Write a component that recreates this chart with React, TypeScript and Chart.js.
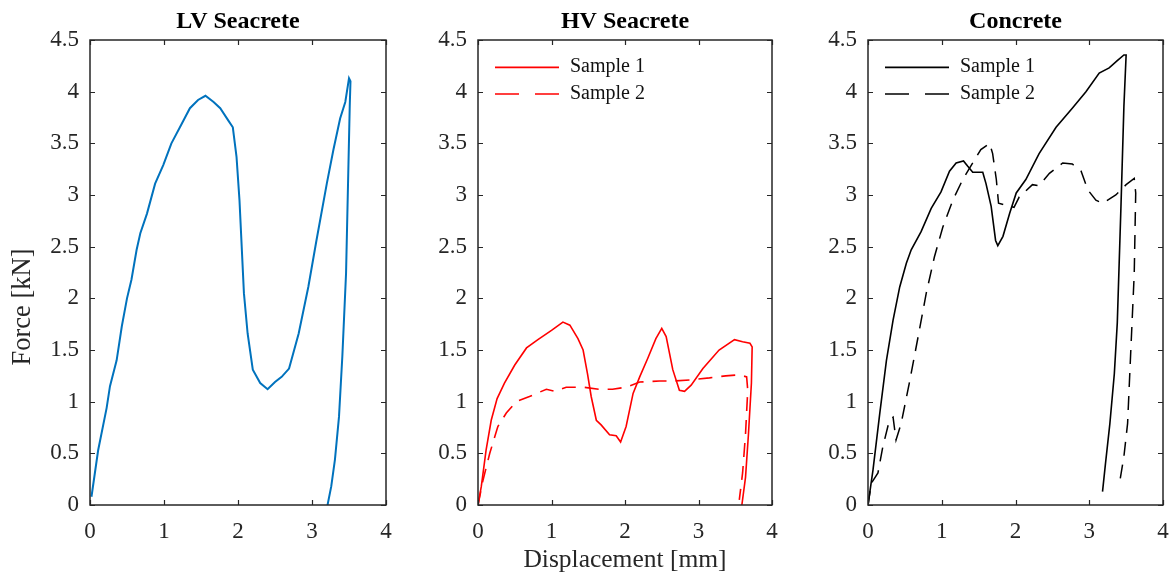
import React, { useEffect, useRef } from 'react';
import { Chart, registerables } from 'chart.js';

Chart.register(...registerables);

// ---------- data ----------
const xTickValues = [0, 1, 2, 3, 4];
const xTickLabels = ['0', '1', '2', '3', '4'];
const yTickValues = [0, 0.5, 1, 1.5, 2, 2.5, 3, 3.5, 4, 4.5];
const yTickLabels = ['0', '0.5', '1', '1.5', '2', '2.5', '3', '3.5', '4', '4.5'];

const panelTitles = ['LV Seacrete', 'HV Seacrete', 'Concrete'];
const seriesLabels = ['Sample 1', 'Sample 2'];
const xAxisTitle = 'Displacement [mm]';
const yAxisTitle = 'Force [kN]';

// LV Seacrete
const lvDisp = [0.02, 0.11, 0.225, 0.27, 0.36, 0.43, 0.5, 0.56, 0.63, 0.68, 0.77, 0.88, 0.99, 1.1, 1.24, 1.35, 1.46, 1.56, 1.67, 1.76, 1.87, 1.93, 1.98, 2.02, 2.05, 2.08, 2.13, 2.2, 2.3, 2.4, 2.5, 2.59, 2.69, 2.82, 2.95, 3.06, 3.2, 3.29, 3.38, 3.45, 3.5, 3.52, 3.51, 3.49, 3.46, 3.41, 3.365, 3.31, 3.26, 3.21];
const lvForce = [0.08, 0.53, 0.94, 1.15, 1.4, 1.73, 2.0, 2.18, 2.47, 2.63, 2.82, 3.11, 3.29, 3.5, 3.69, 3.84, 3.92, 3.96, 3.9, 3.84, 3.72, 3.655, 3.37, 2.95, 2.5, 2.05, 1.66, 1.31, 1.18, 1.12, 1.19, 1.24, 1.32, 1.66, 2.11, 2.56, 3.11, 3.44, 3.74, 3.9, 4.13, 4.1, 3.86, 3.21, 2.24, 1.44, 0.855, 0.44, 0.18, 0];

// HV Seacrete
const hv1Disp = [0, 0.045, 0.11, 0.18, 0.26, 0.36, 0.5, 0.66, 0.815, 1.0, 1.155, 1.25, 1.36, 1.43, 1.49, 1.54, 1.61, 1.675, 1.79, 1.88, 1.94, 2.015, 2.11, 2.2, 2.31, 2.42, 2.5, 2.56, 2.65, 2.74, 2.81, 2.9, 3.06, 3.28, 3.49, 3.6, 3.7, 3.73, 3.72, 3.68, 3.64, 3.59];
const hv1Force = [0, 0.18, 0.53, 0.82, 1.03, 1.18, 1.355, 1.52, 1.6, 1.69, 1.77, 1.74, 1.61, 1.5, 1.27, 1.05, 0.82, 0.775, 0.68, 0.67, 0.61, 0.76, 1.08, 1.24, 1.42, 1.61, 1.71, 1.63, 1.31, 1.11, 1.1, 1.16, 1.32, 1.5, 1.6, 1.58, 1.565, 1.53, 1.18, 0.69, 0.27, 0];
const hv2Disp = [0, 0.068, 0.16, 0.27, 0.385, 0.52, 0.7, 0.93, 1.04, 1.2, 1.43, 1.65, 1.83, 2.015, 2.2, 2.47, 2.65, 2.88, 3.15, 3.37, 3.555, 3.655, 3.67, 3.64, 3.6, 3.555];
const hv2Force = [0, 0.24, 0.5, 0.76, 0.89, 1.0, 1.05, 1.12, 1.1, 1.14, 1.14, 1.12, 1.12, 1.14, 1.19, 1.2, 1.2, 1.21, 1.23, 1.25, 1.26, 1.24, 1.11, 0.69, 0.31, 0.05];

// Concrete
const c1Disp = [0, 0.068, 0.16, 0.25, 0.34, 0.43, 0.52, 0.586, 0.72, 0.857, 0.99, 1.105, 1.195, 1.295, 1.35, 1.42, 1.556, 1.6, 1.67, 1.73, 1.76, 1.83, 1.92, 2.01, 2.14, 2.32, 2.55, 2.77, 2.955, 3.135, 3.27, 3.38, 3.47, 3.5, 3.47, 3.43, 3.38, 3.34, 3.28, 3.22, 3.18];
const c1Force = [0, 0.34, 0.89, 1.4, 1.79, 2.11, 2.34, 2.47, 2.645, 2.87, 3.03, 3.23, 3.31, 3.33, 3.28, 3.22, 3.22, 3.11, 2.89, 2.56, 2.51, 2.6, 2.82, 3.02, 3.15, 3.4, 3.655, 3.84, 4.0, 4.18, 4.23, 4.3, 4.355, 4.355, 3.86, 2.89, 1.76, 1.27, 0.79, 0.4, 0.13];
const c2Disp = [0, 0.045, 0.135, 0.2, 0.29, 0.34, 0.38, 0.45, 0.56, 0.68, 0.79, 0.9, 1.015, 1.15, 1.285, 1.42, 1.53, 1.65, 1.69, 1.74, 1.77, 1.98, 2.05, 2.23, 2.32, 2.46, 2.64, 2.77, 2.89, 2.98, 3.09, 3.18, 3.36, 3.5, 3.61, 3.63, 3.61, 3.56, 3.52, 3.47, 3.41];
const c2Force = [0, 0.21, 0.31, 0.56, 0.82, 0.85, 0.63, 0.79, 1.18, 1.63, 2.05, 2.4, 2.69, 2.95, 3.15, 3.31, 3.44, 3.5, 3.4, 3.15, 2.92, 2.88, 2.98, 3.1, 3.09, 3.21, 3.31, 3.3, 3.23, 3.05, 2.95, 2.92, 3.0, 3.1, 3.16, 3.02, 2.24, 1.44, 0.79, 0.47, 0.21];

// ---------- styles ----------
const SERIF = "'Liberation Serif', 'Times New Roman', serif";
const AXIS = '#262626';
const H = 579;
const PLOT_DASH = [14, 9];
const LEGEND_DASH = [24, 16];

type Series = { label: string; x: number[]; y: number[]; color: string; dashed: boolean; width: number };
type Panel = {
  title: string;
  series: Series[];
  left: number;
  width: number;
  yAxisWidth: number;
  padRight: number;
  yLabel: boolean;
  xLabel: boolean;
  legend: boolean;
};

const panels: Panel[] = [
  {
    title: panelTitles[0],
    series: [{ label: seriesLabels[0], x: lvDisp, y: lvForce, color: '#0072BD', dashed: false, width: 2 }],
    left: 0, width: 400, yAxisWidth: 90, padRight: 14, yLabel: true, xLabel: false, legend: false,
  },
  {
    title: panelTitles[1],
    series: [
      { label: seriesLabels[0], x: hv1Disp, y: hv1Force, color: '#ff0000', dashed: false, width: 1.6 },
      { label: seriesLabels[1], x: hv2Disp, y: hv2Force, color: '#ff0000', dashed: true, width: 1.6 },
    ],
    left: 400, width: 386, yAxisWidth: 78, padRight: 14, yLabel: false, xLabel: true, legend: true,
  },
  {
    title: panelTitles[2],
    series: [
      { label: seriesLabels[0], x: c1Disp, y: c1Force, color: '#000000', dashed: false, width: 1.6 },
      { label: seriesLabels[1], x: c2Disp, y: c2Force, color: '#000000', dashed: true, width: 1.5 },
    ],
    left: 786, width: 385, yAxisWidth: 82, padRight: 8, yLabel: false, xLabel: false, legend: true,
  },
];

const framePlugin = {
  id: 'matlabFrame',
  afterDatasetsDraw(chart: any) {
    const { ctx, chartArea, scales } = chart;
    const { left, right, top, bottom } = chartArea;
    ctx.save();
    ctx.strokeStyle = AXIS;
    ctx.lineWidth = 1.5;
    ctx.setLineDash([]);
    ctx.strokeRect(left, top, right - left, bottom - top);
    const t = 5;
    ctx.beginPath();
    scales.x.ticks.forEach((tk: any) => {
      const px = Math.round(scales.x.getPixelForValue(tk.value)) + 0.5;
      ctx.moveTo(px, bottom);
      ctx.lineTo(px, bottom - t);
      ctx.moveTo(px, top);
      ctx.lineTo(px, top + t);
    });
    scales.y.ticks.forEach((tk: any) => {
      const py = Math.round(scales.y.getPixelForValue(tk.value)) + 0.5;
      ctx.moveTo(left, py);
      ctx.lineTo(left + t, py);
      ctx.moveTo(right, py);
      ctx.lineTo(right - t, py);
    });
    ctx.lineWidth = 1.2;
    ctx.stroke();
    ctx.restore();
  },
};

const legendPlugin = {
  id: 'insideLegend',
  afterDraw(chart: any, _args: any, opts: any) {
    if (!opts || !opts.show) return;
    const { ctx, chartArea } = chart;
    ctx.save();
    chart.data.datasets.forEach((ds: any, i: number) => {
      const y = chartArea.top + 26.7 + i * 26.6;
      ctx.beginPath();
      ctx.strokeStyle = ds.borderColor;
      ctx.lineWidth = ds.borderWidth;
      ctx.setLineDash(ds.borderDash && ds.borderDash.length ? LEGEND_DASH : []);
      ctx.moveTo(chartArea.left + 17, y + 0.7);
      ctx.lineTo(chartArea.left + 81, y + 0.7);
      ctx.stroke();
      ctx.setLineDash([]);
      ctx.fillStyle = '#111';
      ctx.font = `20px ${SERIF}`;
      ctx.textAlign = 'left';
      ctx.textBaseline = 'middle';
      ctx.fillText(ds.label, chartArea.left + 92, y);
    });
    ctx.restore();
  },
};

const yLabelPlugin = {
  id: 'yLabel',
  afterDraw(chart: any, _args: any, opts: any) {
    if (!opts || !opts.show) return;
    const { ctx } = chart;
    ctx.save();
    ctx.translate(23, 307);
    ctx.rotate(-Math.PI / 2);
    ctx.fillStyle = AXIS;
    ctx.font = `26.5px ${SERIF}`;
    ctx.textAlign = 'center';
    ctx.textBaseline = 'middle';
    ctx.fillText(opts.text, 0, 0);
    ctx.restore();
  },
};

function PanelChart({ panel }: { panel: Panel }) {
  const ref = useRef<HTMLCanvasElement>(null);
  useEffect(() => {
    if (!ref.current) return;
    const chart = new Chart(ref.current, {
      type: 'scatter',
      data: {
        datasets: panel.series.map((s) => ({
          label: s.label,
          data: s.x.map((x, i) => ({ x, y: s.y[i] })),
          showLine: true,
          borderColor: s.color,
          backgroundColor: s.color,
          borderWidth: s.width,
          borderDash: s.dashed ? PLOT_DASH : [],
          pointRadius: 0,
          pointHoverRadius: 0,
          tension: 0,
        })),
      },
      options: {
        animation: false,
        responsive: false,
        maintainAspectRatio: false,
        devicePixelRatio: 1,
        layout: { padding: { top: 0, left: 0, bottom: 0, right: panel.padRight } },
        plugins: {
          legend: { display: false },
          tooltip: { enabled: false },
          title: {
            display: true,
            text: panel.title,
            fullSize: false,
            color: '#000',
            font: { family: SERIF, size: 24, weight: 'bold', lineHeight: 1.2 },
            padding: { top: 7, bottom: 4.2 },
          },
          insideLegend: { show: panel.legend },
          yLabel: { show: panel.yLabel, text: yAxisTitle },
        } as any,
        scales: {
          x: {
            type: 'linear',
            min: 0,
            max: 4,
            afterBuildTicks: (s: any) => {
              s.ticks = xTickValues.map((v) => ({ value: v }));
            },
            afterFit: (s: any) => {
              s.height = 74;
              s.paddingLeft = 0;
              s.paddingRight = 0;
            },
            grid: { display: false, drawTicks: false },
            border: { display: false },
            ticks: {
              padding: 13,
              color: AXIS,
              maxRotation: 0,
              autoSkip: false,
              font: { family: SERIF, size: 23 },
              callback: (_v: any, i: number) => xTickLabels[i],
            },
            title: {
              display: panel.xLabel,
              text: xAxisTitle,
              color: AXIS,
              font: { family: SERIF, size: 25.5, lineHeight: 1.2 },
              padding: { top: 0, bottom: 3 },
            },
          },
          y: {
            type: 'linear',
            min: 0,
            max: 4.5,
            afterBuildTicks: (s: any) => {
              s.ticks = yTickValues.map((v) => ({ value: v }));
            },
            afterFit: (s: any) => {
              s.width = panel.yAxisWidth;
              s.paddingTop = 0;
              s.paddingBottom = 0;
            },
            grid: { display: false, drawTicks: false },
            border: { display: false },
            ticks: {
              padding: 11,
              color: AXIS,
              autoSkip: false,
              font: { family: SERIF, size: 23 },
              callback: (_v: any, i: number) => yTickLabels[i],
            },
          },
        },
      } as any,
      plugins: [framePlugin, legendPlugin, yLabelPlugin],
    });
    return () => chart.destroy();
  }, [panel]);
  return (
    <canvas
      ref={ref}
      width={panel.width}
      height={H}
      style={{ position: 'absolute', left: panel.left, top: 0, width: panel.width, height: H }}
    />
  );
}

export default function App() {
  return (
    <div style={{ position: 'absolute', left: 0, top: 0, width: 1171, height: H, background: '#fff' }}>
      {panels.map((p) => (
        <PanelChart key={p.title} panel={p} />
      ))}
    </div>
  );
}
